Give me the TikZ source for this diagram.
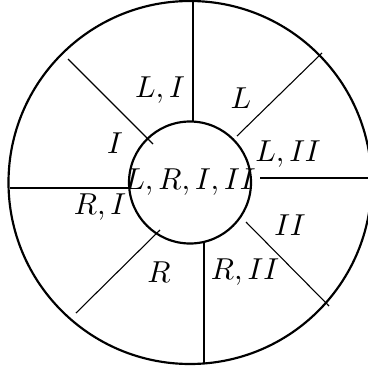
\documentclass[tikz,border=0pt]{standalone}
\begin{document}
\begin{tikzpicture}[x=0.013cm,y=-0.013cm,every node/.style={scale=1.12}]
\useasboundingbox (0,0) rectangle (368,368);
\coordinate (c) at (190,182.5);

\draw[thick] (c) circle[radius=181.5];
\draw[thick] (c) circle[radius=61];

\draw[thick] (193.3,0) -- (193.3,121.6);
\draw[thick] (10,187.7) -- (129.2,187.7);
\draw[thick] (260,177.7) -- (368,177.7);
\draw[thick] (204.3,241.8) -- (204.3,363.4);

\draw[thin] (68,59) -- (153,144);
\draw[thin] (237,136) -- (322,53);
\draw[thin] (246,222) -- (329,306);
\draw[thin] (160,230) -- (76,313);

\node (li) at (160,90) {$L,I$};
\node (l) at (241,98) {$L$};
\node (i) at (115,143) {$I$};
\node (lii) at (288,154) {$L,II$};
\node (all) at (190,182) {$L,R,I,II$};
\node (ri) at (100,207) {$R,I$};
\node (ii) at (290,225) {$II$};
\node (r) at (159,272) {$R$};
\node (rii) at (245,272) {$R,II$};
\end{tikzpicture}
\end{document}
